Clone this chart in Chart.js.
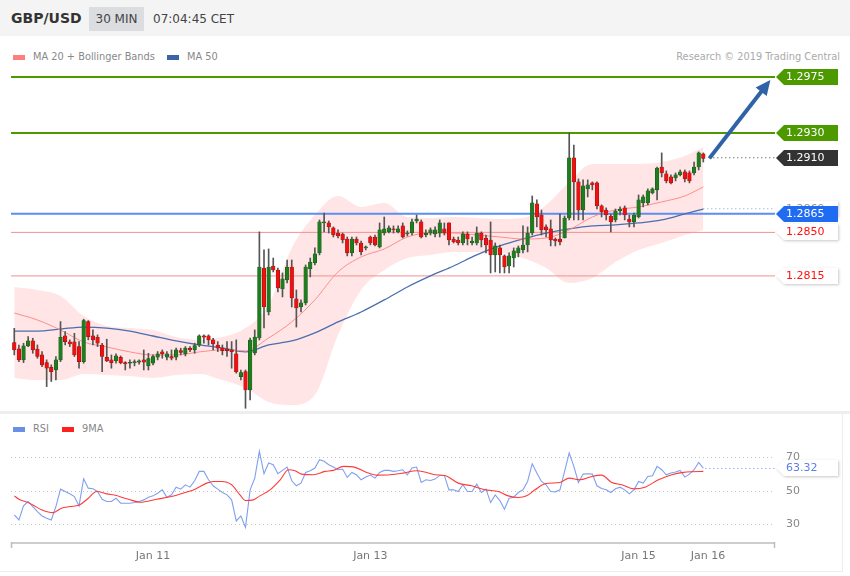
<!DOCTYPE html>
<html><head><meta charset="utf-8">
<script src="https://cdn.jsdelivr.net/npm/chart.js@4.4.1/dist/chart.umd.min.js"></script>
<style>
html,body{margin:0;padding:0;background:#fff;width:850px;height:576px;overflow:hidden;font-family:"DejaVu Sans",sans-serif;}
.abs{position:absolute;white-space:nowrap;}
#hdr{position:absolute;left:0;top:0;width:850px;height:36px;background:#f4f4f4;}
#sym{left:11px;top:10px;font-weight:bold;font-size:14px;color:#333;}
#tf{left:89px;top:7px;width:55px;height:24px;line-height:24px;background:#dcdde1;color:#444;font-size:12px;text-align:center;}
#time{left:153px;top:12px;font-size:12px;color:#444;}
.sw{position:absolute;width:12px;height:5px;}
.lg{font-size:9.8px;color:#888;}
#sep{position:absolute;left:0;top:411px;width:850px;height:3px;background:#eeeeee;}
#rbox{position:absolute;left:0;top:414px;width:842px;height:157px;border-right:1px solid #ececec;border-bottom:1px solid #ececec;}
canvas{position:absolute;left:0;}
</style></head><body>
<div id="hdr"></div>
<div id="sym" class="abs">GBP/USD</div>
<div id="tf" class="abs">30 MIN</div>
<div id="time" class="abs">07:04:45 CET</div>
<div class="sw" style="left:13px;top:55px;background:#ff7f7f"></div>
<div class="abs lg" style="left:33px;top:51px">MA 20 + Bollinger Bands</div>
<div class="sw" style="left:167px;top:55px;background:#3e63a8"></div>
<div class="abs lg" style="left:187px;top:51px">MA 50</div>
<div class="abs lg" style="right:10px;top:51px;color:#aaa">Research © 2019 Trading Central</div>
<div id="sep"></div>
<div id="rbox"></div>
<div class="sw" style="left:13px;top:427px;background:#6a8fe8"></div>
<div class="abs lg" style="left:33px;top:423px">RSI</div>
<div class="sw" style="left:62px;top:427px;background:#ff2020"></div>
<div class="abs lg" style="left:82px;top:423px">9MA</div>
<canvas id="main" width="850" height="349" style="top:62px"></canvas>
<canvas id="rsi" width="850" height="151" style="top:420px"></canvas>
<script>
// ---------- DATA ----------
const candleOpen = [1.27614,1.27563,1.27475,1.27587,1.27628,1.27561,1.27515,1.27453,1.27416,1.27394,
1.27475,1.27668,1.27620,1.27620,1.27582,1.27461,1.27783,1.27668,1.27657,1.27595,
1.27496,1.27475,1.27467,1.27496,1.27453,1.27448,1.27453,1.27456,1.27475,1.27427,
1.27448,1.27496,1.27539,1.27496,1.27502,1.27496,1.27550,1.27523,1.27569,1.27555,
1.27595,1.27668,1.27668,1.27636,1.27595,1.27569,1.27561,1.27555,1.27523,1.27341,
1.27381,1.27234,1.27531,1.27651,1.28214,1.27860,1.28230,1.28198,1.28045,1.28118,
1.28222,1.27965,1.27900,1.27933,1.28206,1.28254,1.28335,1.28576,1.28576,1.28536,
1.28495,1.28487,1.28447,1.28335,1.28447,1.28415,1.28375,1.28463,1.28463,1.28383,
1.28495,1.28504,1.28528,1.28504,1.28552,1.28487,1.28495,1.28592,1.28584,1.28479,
1.28495,1.28487,1.28495,1.28528,1.28576,1.28447,1.28439,1.28415,1.28487,1.28415,
1.28415,1.28495,1.28455,1.28439,1.28319,1.28375,1.28311,1.28230,1.28294,1.28335,
1.28359,1.28399,1.28495,1.28729,1.28640,1.28544,1.28528,1.28447,1.28447,1.28455,
1.28616,1.29099,1.28906,1.28680,1.28850,1.28898,1.28898,1.28713,1.28680,1.28632,
1.28600,1.28672,1.28697,1.28608,1.28584,1.28624,1.28737,1.28737,1.28817,1.28842,
1.29026,1.28970,1.28946,1.28938,1.28962,1.28986,1.28978,1.28978,1.29026,1.29131];
const candleHigh = [1.27729,1.27595,1.27609,1.27662,1.27649,1.27595,1.27542,1.27475,1.27435,1.27502,
1.27783,1.27703,1.27636,1.27689,1.27622,1.27802,1.27791,1.27716,1.27676,1.27609,
1.27641,1.27515,1.27523,1.27507,1.27461,1.27475,1.27475,1.27475,1.27555,1.27528,
1.27515,1.27542,1.27555,1.27542,1.27555,1.27569,1.27569,1.27582,1.27582,1.27609,
1.27676,1.27676,1.27676,1.27649,1.27622,1.27595,1.27622,1.27622,1.27636,1.27394,
1.27394,1.27651,1.27716,1.28504,1.28359,1.28367,1.28294,1.28214,1.28174,1.28278,
1.28278,1.28037,1.27957,1.28238,1.28294,1.28375,1.28600,1.28656,1.28592,1.28544,
1.28520,1.28495,1.28463,1.28463,1.28463,1.28431,1.28391,1.28471,1.28479,1.28576,
1.28624,1.28552,1.28552,1.28552,1.28576,1.28512,1.28608,1.28640,1.28600,1.28520,
1.28536,1.28544,1.28600,1.28576,1.28576,1.28463,1.28463,1.28504,1.28504,1.28463,
1.28544,1.28504,1.28479,1.28584,1.28415,1.28399,1.28319,1.28335,1.28375,1.28391,
1.28552,1.28544,1.28793,1.28761,1.28680,1.28560,1.28600,1.28455,1.28648,1.28632,
1.29300,1.29203,1.28930,1.28922,1.28922,1.28906,1.28906,1.28721,1.28697,1.28648,
1.28688,1.28705,1.28713,1.28640,1.28656,1.28801,1.28801,1.28850,1.28858,1.29026,
1.29139,1.28994,1.28962,1.28978,1.29002,1.29002,1.28994,1.29066,1.29147,1.29139];
const candleLow = [1.27515,1.27461,1.27453,1.27582,1.27528,1.27488,1.27421,1.27260,1.27301,1.27314,
1.27461,1.27595,1.27582,1.27502,1.27408,1.27448,1.27636,1.27595,1.27582,1.27381,
1.27461,1.27408,1.27448,1.27443,1.27394,1.27408,1.27427,1.27440,1.27394,1.27394,
1.27435,1.27475,1.27488,1.27475,1.27475,1.27475,1.27515,1.27507,1.27542,1.27528,
1.27582,1.27609,1.27595,1.27555,1.27542,1.27515,1.27502,1.27408,1.27368,1.27314,
1.27086,1.27153,1.27515,1.27635,1.27731,1.27836,1.28182,1.28021,1.27981,1.28093,
1.27900,1.27739,1.27860,1.27917,1.28142,1.28238,1.28319,1.28504,1.28495,1.28463,
1.28455,1.28415,1.28311,1.28311,1.28399,1.28319,1.28359,1.28399,1.28391,1.28375,
1.28479,1.28495,1.28495,1.28495,1.28455,1.28471,1.28479,1.28576,1.28455,1.28463,
1.28479,1.28463,1.28463,1.28479,1.28399,1.28415,1.28399,1.28399,1.28399,1.28399,
1.28399,1.28383,1.28335,1.28174,1.28182,1.28174,1.28174,1.28174,1.28222,1.28303,
1.28335,1.28343,1.28479,1.28544,1.28479,1.28463,1.28391,1.28391,1.28399,1.28455,
1.28600,1.28600,1.28600,1.28600,1.28785,1.28842,1.28688,1.28624,1.28600,1.28504,
1.28584,1.28640,1.28600,1.28544,1.28544,1.28616,1.28705,1.28721,1.28809,1.28761,
1.28946,1.28898,1.28890,1.28914,1.28954,1.28906,1.28898,1.28962,1.29002,1.29066];
const candleClose = [1.27555,1.27475,1.27587,1.27628,1.27555,1.27502,1.27435,1.27408,1.27381,1.27475,
1.27657,1.27622,1.27603,1.27515,1.27461,1.27791,1.27662,1.27636,1.27609,1.27502,
1.27467,1.27453,1.27507,1.27453,1.27443,1.27456,1.27461,1.27467,1.27456,1.27485,
1.27502,1.27523,1.27523,1.27523,1.27488,1.27555,1.27534,1.27569,1.27555,1.27590,
1.27668,1.27657,1.27636,1.27603,1.27569,1.27550,1.27550,1.27542,1.27381,1.27373,
1.27234,1.27635,1.27659,1.28222,1.27900,1.28222,1.28198,1.28053,1.28126,1.28222,
1.27973,1.27892,1.27933,1.28222,1.28262,1.28327,1.28584,1.28584,1.28544,1.28479,
1.28471,1.28439,1.28335,1.28447,1.28415,1.28343,1.28383,1.28415,1.28399,1.28520,
1.28528,1.28536,1.28520,1.28528,1.28463,1.28495,1.28584,1.28608,1.28463,1.28495,
1.28520,1.28520,1.28576,1.28495,1.28439,1.28423,1.28415,1.28487,1.28447,1.28431,
1.28495,1.28439,1.28399,1.28319,1.28391,1.28319,1.28222,1.28311,1.28351,1.28375,
1.28399,1.28495,1.28737,1.28624,1.28520,1.28520,1.28439,1.28431,1.28423,1.28616,
1.29099,1.28906,1.28680,1.28874,1.28882,1.28882,1.28713,1.28664,1.28640,1.28584,
1.28672,1.28688,1.28640,1.28584,1.28640,1.28761,1.28785,1.28834,1.28850,1.29018,
1.28978,1.28914,1.28898,1.28962,1.28986,1.28930,1.28914,1.29026,1.29139,1.29095];

const bandIndex = [0,5,10,15,20,25,30,35,40,45,50,55,60,65,70,75,80,85,90,95,100,105,110,115,120,125,130,135,140,145,149];
const bbUpper = [1.28061,1.28037,1.27989,1.27828,1.27748,1.27731,1.27715,1.27659,1.27635,1.27659,1.27731,1.27917,1.28375,1.28640,1.28793,1.28705,1.28737,1.28624,1.28616,1.28624,1.28616,1.28608,1.28616,1.28721,1.28906,1.29050,1.29050,1.29050,1.29066,1.29115,1.29187];
const bbLower = [1.27330,1.27313,1.27313,1.27362,1.27354,1.27346,1.27330,1.27354,1.27362,1.27313,1.27249,1.27137,1.27112,1.27193,1.27675,1.28037,1.28198,1.28294,1.28319,1.28343,1.28343,1.28335,1.28294,1.28214,1.28093,1.28134,1.28262,1.28359,1.28415,1.28479,1.28520];
const ma20 = [1.27852,1.27796,1.27715,1.27619,1.27579,1.27539,1.27514,1.27514,1.27539,1.27555,1.27547,1.27651,1.27780,1.27957,1.28182,1.28303,1.28367,1.28463,1.28495,1.28495,1.28479,1.28463,1.28447,1.28455,1.28520,1.28624,1.28680,1.28705,1.28745,1.28793,1.28866];
const ma50 = [1.27707,1.27707,1.27723,1.27739,1.27731,1.27707,1.27667,1.27627,1.27595,1.27571,1.27539,1.27595,1.27627,1.27692,1.27780,1.27860,1.27957,1.28061,1.28150,1.28230,1.28319,1.28391,1.28447,1.28495,1.28528,1.28552,1.28560,1.28576,1.28600,1.28648,1.28688];

const targetLevels = [1.2975, 1.2930];
const lastPrice = 1.2910;
const ma50Last = 1.2869;
const pivotLevel = 1.2865;
const supportLevels = [1.2850, 1.2815];
const arrowFrom = {x: 150.3, y: 1.29095};
const arrowTo = {x: 163.5, y: 1.29726};

const rsiValues = [35.4,32.4,40.8,43.4,40.4,37.4,34.8,33.4,32.4,40.4,
50.8,49.4,48.0,46.4,40.8,57.0,51.4,51.0,49.4,44.8,
43.4,43.4,45.4,42.4,42.4,42.4,42.8,43.4,44.4,46.0,
46.8,48.4,50.4,46.0,47.4,52.0,50.8,53.4,52.0,55.8,
61.4,61.4,56.4,52.8,50.8,48.8,47.4,44.4,31.8,34.8,
28.0,50.4,57.4,73.4,60.0,66.4,65.4,60.0,62.0,64.0,
55.8,52.8,54.4,60.8,61.8,63.4,68.4,67.4,65.4,64.0,
62.4,62.8,57.8,60.8,59.4,56.4,58.0,59.2,57.4,60.8,
62.0,62.0,61.4,61.8,62.4,59.4,63.4,64.0,54.8,56.4,
56.0,56.8,59.0,59.0,50.4,50.4,49.4,53.4,49.4,49.4,
53.8,48.8,50.8,42.8,47.4,44.0,38.8,45.4,46.0,48.8,
50.4,55.4,66.0,60.4,55.4,53.4,49.4,49.2,50.4,61.4,
72.4,64.4,54.8,59.8,60.0,59.8,52.8,51.2,50.4,48.8,
51.0,52.0,50.4,48.0,50.4,55.4,54.4,58.4,58.8,64.4,
62.4,59.4,60.4,61.0,62.0,58.0,59.8,62.4,66.8,63.32];
const rsiMaIndex = [0,1,3,4,6,8.4,10.2,12,14.1,16,17.8,20,22.1,23.2,24.7,27.2,30.8,34,36.9,39.1,41.6,43,44.85,47,48.8,50,51.7,53.1,55.3,57.5,59.3,60.7,62.1,64.7,67.2,69,71.2,73.7,76.2,78.4,81.3,84.1,87,88.8,91,93.1,96,98.9,101.8,104.7,106.8,109,110.8,112.6,114.8,118,120,122.3,124.9,127,129.2,131.4,133.9,136.4,139.3,142.2,144.7,146.5,149];
const rsiMaValues = [46.8,44.8,42.8,41.4,38.4,36.8,39.4,40.4,41.4,45.4,49.4,48.0,47.0,46.0,44.8,43.0,44.8,46.4,48.8,50.8,54.4,55.4,55.4,53.4,47.4,44.0,44.4,46.8,50.4,56.4,62.4,61.8,59.8,59.4,61.4,62.0,64.4,63.8,60.8,59.2,59.4,60.4,61.8,61.0,59.4,59.0,54.4,52.8,50.4,49.4,46.8,45.8,46.8,50.4,54.0,54.8,57.4,56.4,58.4,59.2,54.8,53.4,51.0,52.0,56.4,59.4,60.8,61.2,61.4];
const rsiTicks = [30, 50, 70];
const xTickIndex = [30, 77, 135, 150];
const xTickLabels = ['Jan 11', 'Jan 13', 'Jan 15', 'Jan 16'];

// ---------- SCALE SETUP ----------
const X_MIN = -0.71, X_MAX = 164.5;
const Y_MIN = 1.27064, Y_MAX = 1.29870;
const RSI_MIN = 18.66, RSI_MAX = 80.15;
const FONT = '"DejaVu Sans", sans-serif';

const idx = candleOpen.map((_, i) => i);
const up = idx.map(i => candleClose[i] >= candleOpen[i]);
const bodyData = idx.map(i => ({x: i, y: [candleOpen[i], candleClose[i]]}));
const wickData = idx.map(i => ({x: i, y: [candleLow[i], candleHigh[i]]}));
const pts = (xs, ys) => xs.map((x, k) => ({x: x, y: ys[k]}));
const hline = (v, x0, x1) => [{x: x0, y: v}, {x: x1, y: v}];
const lineDs = (data, color, width, order, extra) => Object.assign({
  type: 'line', data: data, borderColor: color, borderWidth: width, pointRadius: 0,
  fill: false, order: order, cubicInterpolationMode: 'monotone'
}, extra || {});

function drawTag(ctx, x, y, w, bg, fg, text, shadow) {
  ctx.save();
  if (shadow) { ctx.shadowColor = 'rgba(0,0,0,0.22)'; ctx.shadowBlur = 3; ctx.shadowOffsetX = 1; ctx.shadowOffsetY = 1; }
  ctx.beginPath();
  ctx.moveTo(x, y); ctx.lineTo(x + 8, y - 8); ctx.lineTo(x + w, y - 8);
  ctx.lineTo(x + w, y + 8); ctx.lineTo(x + 8, y + 8); ctx.closePath();
  ctx.fillStyle = bg; ctx.fill();
  ctx.restore();
  ctx.save();
  ctx.fillStyle = fg; ctx.font = '11px ' + FONT; ctx.textBaseline = 'middle'; ctx.textAlign = 'left';
  ctx.fillText(text, x + 10, y + 0.5);
  ctx.restore();
}

const mainOverlay = {
  id: 'mainOverlay',
  afterDraw(chart) {
    const ctx = chart.ctx, xs = chart.scales.x, ys = chart.scales.y, ca = chart.chartArea;
    const x0 = xs.getPixelForValue(arrowFrom.x), y0 = ys.getPixelForValue(arrowFrom.y);
    const x1 = xs.getPixelForValue(arrowTo.x), y1 = ys.getPixelForValue(arrowTo.y);
    const ang = Math.atan2(y1 - y0, x1 - x0), hl = 15, hw = 7;
    const bx = x1 - hl * Math.cos(ang), by = y1 - hl * Math.sin(ang);
    ctx.save();
    ctx.strokeStyle = '#2f62a6'; ctx.fillStyle = '#2f62a6'; ctx.lineWidth = 4; ctx.lineCap = 'butt';
    ctx.beginPath(); ctx.moveTo(x0, y0); ctx.lineTo(bx + 2 * Math.cos(ang), by + 2 * Math.sin(ang)); ctx.stroke();
    ctx.beginPath(); ctx.moveTo(x1, y1);
    ctx.lineTo(bx + hw * Math.sin(ang), by - hw * Math.cos(ang));
    ctx.lineTo(bx - hw * Math.sin(ang), by + hw * Math.cos(ang));
    ctx.closePath(); ctx.fill();
    ctx.restore();
    const tx = ca.right + 1, tw = 62;
    const tags = [
      {v: targetLevels[0], bg: '#4c9a00', fg: '#fff'},
      {v: targetLevels[1], bg: '#4c9a00', fg: '#fff'},
      {v: lastPrice, bg: '#333333', fg: '#fff'},
      {v: ma50Last, bg: '#ffffff', fg: '#8a93a6', sh: true},
      {v: pivotLevel, bg: '#1f6bf2', fg: '#fff'},
      {v: supportLevels[0], bg: '#ffffff', fg: '#ff1010', sh: true},
      {v: supportLevels[1], bg: '#ffffff', fg: '#ff1010', sh: true}
    ];
    tags.forEach(t => drawTag(ctx, tx, Math.round(ys.getPixelForValue(t.v)), tw, t.bg, t.fg, t.v.toFixed(4), t.sh));
  }
};

new Chart(document.getElementById('main'), {
  type: 'bar',
  data: {
    datasets: [
      lineDs(pts(bandIndex, bbUpper), 'rgba(0,0,0,0)', 0, 20, {fill: '+1', backgroundColor: 'rgba(255,40,40,0.12)'}),
      lineDs(pts(bandIndex, bbLower), 'rgba(0,0,0,0)', 0, 19),
      lineDs(hline(targetLevels[0], X_MIN, X_MAX), '#4c9a00', 2, 15, {cubicInterpolationMode: 'default'}),
      lineDs(hline(targetLevels[1], X_MIN, X_MAX), '#4c9a00', 2, 15, {cubicInterpolationMode: 'default'}),
      lineDs(hline(pivotLevel, X_MIN, X_MAX), '#5b8ef2', 2, 15, {cubicInterpolationMode: 'default'}),
      lineDs(hline(supportLevels[0], X_MIN, X_MAX), '#f39090', 1, 15, {cubicInterpolationMode: 'default'}),
      lineDs(hline(supportLevels[1], X_MIN, X_MAX), '#f39090', 1, 15, {cubicInterpolationMode: 'default'}),
      lineDs(hline(lastPrice, arrowFrom.x, X_MAX), '#333', 1, 15, {borderDash: [1, 3], cubicInterpolationMode: 'default'}),
      lineDs(hline(ma50Last, bandIndex[bandIndex.length - 1], X_MAX), '#8a9cc0', 1, 15, {borderDash: [1, 3], cubicInterpolationMode: 'default'}),
      lineDs(pts(bandIndex, ma20), '#ff8c8c', 1, 10),
      lineDs(pts(bandIndex, ma50), '#4a6fb0', 1.3, 10),
      {type: 'bar', data: wickData, backgroundColor: '#555', barThickness: 1, grouped: false, order: 5},
      {type: 'bar', data: bodyData, grouped: false, order: 2, barThickness: 3.6, minBarLength: 1,
       backgroundColor: up.map(u => u ? '#1e7d1e' : '#f01010'),
       borderColor: up.map(u => u ? '#155515' : '#8a1010'), borderWidth: 0.5, borderSkipped: false}
    ]
  },
  options: {
    responsive: false, animation: false, events: [],
    layout: {padding: {left: 11, right: 75, top: 0, bottom: 0}},
    plugins: {legend: {display: false}, tooltip: {enabled: false}},
    scales: {
      x: {type: 'linear', min: X_MIN, max: X_MAX, offset: false, display: false},
      y: {type: 'linear', min: Y_MIN, max: Y_MAX, display: false}
    }
  },
  plugins: [mainOverlay]
});

const rsiOverlay = {
  id: 'rsiOverlay',
  beforeDatasetsDraw(chart) {
    const ctx = chart.ctx, ys = chart.scales.y, ca = chart.chartArea;
    ctx.save();
    ctx.strokeStyle = '#c4c4c4'; ctx.lineWidth = 1; ctx.setLineDash([1, 3]);
    rsiTicks.forEach(v => {
      const y = Math.round(ys.getPixelForValue(v)) + 0.5;
      ctx.beginPath(); ctx.moveTo(ca.left, y); ctx.lineTo(ca.right, y); ctx.stroke();
    });
    ctx.restore();
  },
  afterDraw(chart) {
    const ctx = chart.ctx, xs = chart.scales.x, ys = chart.scales.y, ca = chart.chartArea;
    ctx.save();
    ctx.strokeStyle = '#bdbdbd'; ctx.lineWidth = 1.5;
    ctx.beginPath(); ctx.moveTo(ca.left, ca.bottom); ctx.lineTo(ca.right, ca.bottom); ctx.stroke();
    ctx.beginPath(); ctx.moveTo(ca.left + 0.5, ca.bottom - 1); ctx.lineTo(ca.left + 0.5, ca.bottom + 5);
    ctx.moveTo(ca.right - 0.5, ca.bottom - 1); ctx.lineTo(ca.right - 0.5, ca.bottom + 5); ctx.stroke();
    ctx.fillStyle = '#777'; ctx.font = '11px ' + FONT; ctx.textAlign = 'center'; ctx.textBaseline = 'middle';
    xTickIndex.forEach((v, k) => ctx.fillText(xTickLabels[k], xs.getPixelForValue(v), ca.bottom + 13));
    ctx.textAlign = 'left'; ctx.fillStyle = '#888';
    rsiTicks.forEach(v => ctx.fillText(String(v), ca.right + 11, ys.getPixelForValue(v) + 0.5));
    const last = rsiValues[rsiValues.length - 1];
    const ly = Math.round(ys.getPixelForValue(last)) + 0.5;
    ctx.strokeStyle = '#6f93ee'; ctx.lineWidth = 1; ctx.setLineDash([1, 3]);
    ctx.beginPath(); ctx.moveTo(xs.getPixelForValue(rsiValues.length - 1) + 2, ly); ctx.lineTo(ca.right, ly); ctx.stroke();
    ctx.setLineDash([]);
    ctx.restore();
    drawTag(ctx, ca.right + 1, Math.round(ys.getPixelForValue(last)), 62, '#ffffff', '#5a7ff0', last.toFixed(2), true);
  }
};

new Chart(document.getElementById('rsi'), {
  type: 'line',
  data: {
    datasets: [
      lineDs(pts(idx, rsiValues), '#7f9ff0', 1.1, 3, {cubicInterpolationMode: 'default', tension: 0}),
      lineDs(pts(rsiMaIndex, rsiMaValues), '#ff3a3a', 1.1, 1)
    ]
  },
  options: {
    responsive: false, animation: false, events: [],
    layout: {padding: {left: 11, right: 75, top: 20, bottom: 28}},
    plugins: {legend: {display: false}, tooltip: {enabled: false}},
    scales: {
      x: {type: 'linear', min: X_MIN, max: X_MAX, display: false},
      y: {type: 'linear', min: RSI_MIN, max: RSI_MAX, display: false}
    }
  },
  plugins: [rsiOverlay]
});
</script>
</body></html>
